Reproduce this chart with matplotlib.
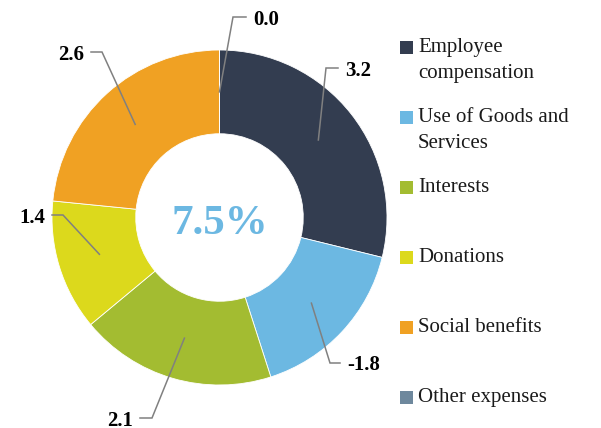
import numpy as np
import matplotlib
matplotlib.use('Agg')
import matplotlib.pyplot as plt
from matplotlib.patches import Rectangle

# data
categories = ['Employee\ncompensation', 'Use of Goods and\nServices', 'Interests',
              'Donations', 'Social benefits', 'Other expenses']
values = [3.2, -1.8, 2.1, 1.4, 2.6, 0.0]
colors = ['#333d50', '#6cb8e2', '#a3bc31', '#dcd91c', '#f0a123', '#6e889d']
total_label = '7.5%'

plt.rcParams['font.family'] = ['Liberation Serif', 'DejaVu Serif']

W, H = 601, 428
fig = plt.figure(figsize=(W / 100, H / 100), dpi=100)
ax = fig.add_axes([0, 0, 1, 1])

# ring geometry (pixels, y up)
cx, cy = 219.5, H - 217.5
R = 167.5
ring = 0.5

sizes = [abs(v) for v in values]
wedges, _ = ax.pie(sizes, colors=colors, startangle=90, counterclock=False,
                   radius=R, center=(cx, cy),
                   wedgeprops=dict(width=R * ring, edgecolor='white', linewidth=0.6),
                   frame=True)
ax.set_xlim(0, W)
ax.set_ylim(0, H)
ax.set_aspect('equal')
ax.axis('off')

ax.text(cx, cy - 6, total_label, ha='center', va='center', fontsize=31,
        fontweight='bold', color='#6cb8e2')

# leader lines: elbow point (x, y from top) and end of the horizontal stub
elbows = [(326, 68, 338), (330, 363, 340), (152, 418, 140),
          (63, 215, 52), (102, 52, 91), (233, 17, 246)]
r_mid = R * (1 - ring / 2)
for w, v, (ex, ey, hx) in zip(wedges, values, elbows):
    ang = np.deg2rad((w.theta1 + w.theta2) / 2)
    sx, sy = cx + r_mid * np.cos(ang), cy + r_mid * np.sin(ang)
    ey = H - ey
    ax.plot([sx, ex, hx], [sy, ey, ey], color='#808080', lw=1.1,
            solid_joinstyle='miter')
    if hx > ex:
        ax.text(hx + 7, ey, f'{v:.1f}', ha='left', va='center_baseline',
                fontsize=15, fontweight='bold', color='black')
    else:
        ax.text(hx - 7, ey, f'{v:.1f}', ha='right', va='center_baseline',
                fontsize=15, fontweight='bold', color='black')

# legend drawn by hand: rows are evenly spaced
lx, ly0, step, sq = 400, 47, 70, 13
for i, (lab, c) in enumerate(zip(categories, colors)):
    yc = H - (ly0 + i * step)
    ax.add_patch(Rectangle((lx, yc - sq / 2), sq, sq, facecolor=c, edgecolor='none'))
    ax.text(lx + 18, yc + 9, lab, ha='left', va='top', fontsize=15,
            color='#1a1a1a', linespacing=1.5)

fig.savefig('out.png', dpi=100)
